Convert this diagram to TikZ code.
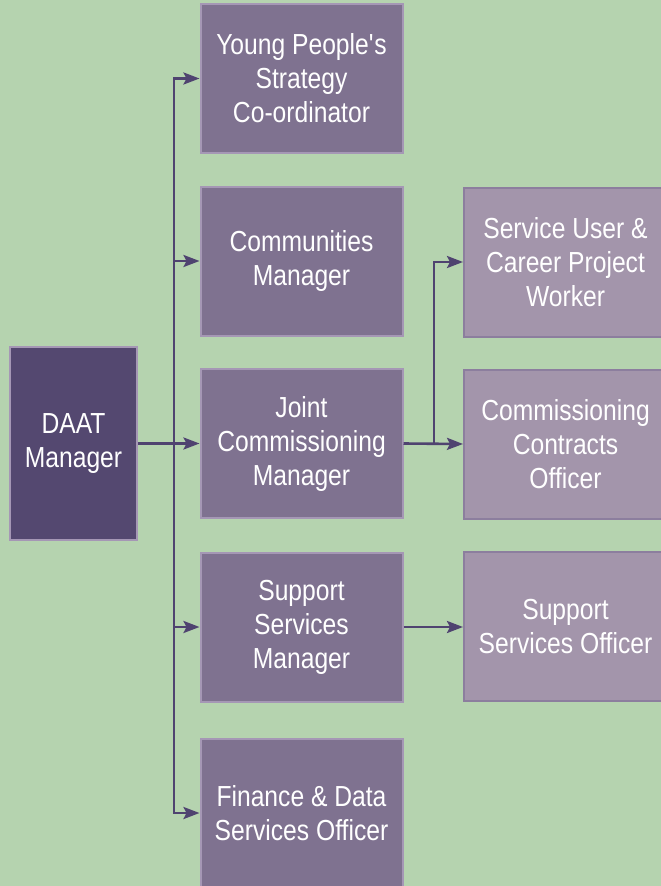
\documentclass[tikz,border=0pt]{standalone}
\usepackage{fontspec}
\setmainfont[FakeStretch=0.85]{Liberation Sans}
\usetikzlibrary{arrows.meta}
\definecolor{bg}{HTML}{B5D3AF}
\definecolor{daatfill}{HTML}{544870}
\definecolor{midfill}{HTML}{7F7290}
\definecolor{midborder}{HTML}{A597B5}
\definecolor{rfill}{HTML}{A395AB}
\definecolor{rborder}{HTML}{8C7E9E}
\definecolor{arrcol}{HTML}{4F4370}
\tikzset{
  box/.style={rectangle, line width=2pt, text=white, align=center,
    font=\fontsize{29}{34}\selectfont, inner sep=0pt},
  daatbox/.style={box, fill=daatfill, draw=midborder, minimum width=127pt, minimum height=193pt},
  midbox/.style={box, fill=midfill, draw=midborder, minimum width=202pt, minimum height=149pt},
  rbox/.style={box, fill=rfill, draw=rborder, minimum width=203pt, minimum height=149pt},
  arr/.style={draw=arrcol, line width=2.6pt, -{Stealth[length=16pt,width=12pt,inset=3pt]}},
}
\begin{document}
\begin{tikzpicture}[x=1pt,y=-1pt]
\fill[bg] (0,0) rectangle (661,886);
\useasboundingbox (0,0) rectangle (661,886);
\clip (0,0) rectangle (661,886);
\node[daatbox] (daat) at (73.5,443.5) {DAAT\\Manager};
\node[midbox] (young) at (301.5,78.5) {Young People\textquotesingle s\\Strategy\\Co-ordinator};
\node[midbox] (comm) at (301.5,261) {Communities\\Manager};
\node[midbox] (joint) at (301.5,443.5) {Joint\\Commissioning\\Manager};
\node[midbox] (supm) at (301.5,627) {Support\\Services\\Manager};
\node[midbox] (fin) at (301.5,813) {Finance \& Data\\Services Officer};
\node[rbox] (suw) at (565.5,262) {Service User \&\\Career Project\\Worker};
\node[rbox] (cco) at (565.5,444) {Commissioning\\Contracts\\Officer};
\node[rbox] (sso) at (565.5,626.5) {Support\\Services Officer};
\coordinate (t) at (174,443.5);
\coordinate (b) at (434,443.5);
\draw[arr] (daat.east) -- (joint.west);
\draw[arr] (t) |- (young.west);
\draw[arr] (t) |- (comm.west);
\draw[arr] (t) |- (supm.west);
\draw[arr] (t) |- (fin.west);
\draw[arr] (joint.east) -- (cco.west);
\draw[arr] (b) |- (suw.west);
\draw[arr] (supm.east) -- (sso.west |- supm.east);
\end{tikzpicture}
\end{document}
